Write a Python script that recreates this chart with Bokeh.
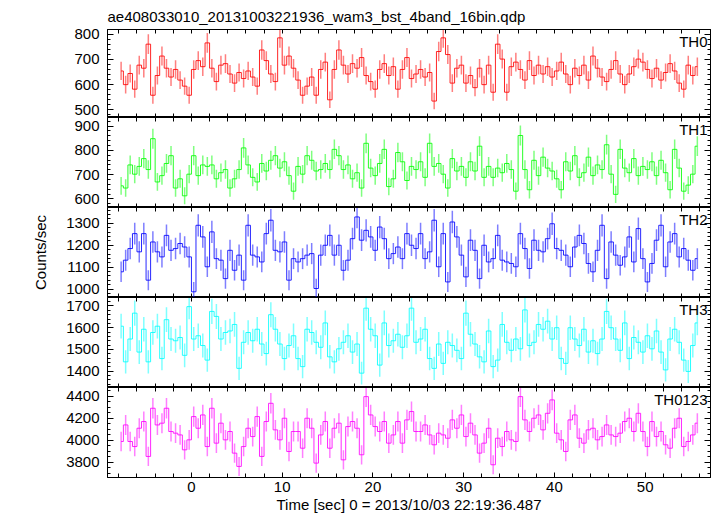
import numpy as np
from bokeh.plotting import figure
from bokeh.models import Range1d, LinearAxis, FixedTicker, Label, ColumnDataSource
from bokeh.layouts import column
from bokeh.embed import file_html
from bokeh.resources import INLINE

# ---------------- data ----------------
TITLE = "ae408033010_20131003221936_wam3_bst_4band_16bin.qdp"
X_LABEL = "Time [sec] 0 = 2013/10/03 22:19:36.487"
Y_LABEL = "Counts/sec"
BIN_WIDTH = 0.5          # s
T_START = -8.0           # s, left edge of first bin
BANDS = ["TH0", "TH1", "TH2", "TH3", "TH0123"]

TH0 = [654, 600, 644, 582, 677, 665, 760, 558, 636, 713,
       665, 630, 660, 618, 594, 558, 660, 695, 671, 765,
       665, 612, 677, 683, 642, 606, 648, 624, 654, 630,
       594, 737, 695, 642, 612, 785, 677, 713, 665, 618,
       558, 594, 630, 558, 660, 689, 540, 660, 737, 677,
       642, 683, 665, 707, 636, 612, 582, 660, 683, 636,
       671, 582, 660, 707, 624, 642,
       660, 630, 648, 535, 731, 785, 719, 606, 665, 677,
       606, 636, 588, 665, 600, 677, 570, 760, 701, 570,
       671, 689, 660, 618, 695, 636, 677, 642, 671, 630,
       654, 689, 642, 600, 665, 636, 677, 618, 713, 665,
       630, 612, 660, 695, 642, 600, 642, 671, 701, 689,
       660, 624, 665, 618, 648, 683, 654, 606, 582, 677,
       636, 671]

TH1 = [654, 645, 740, 702, 734, 766, 721, 848, 670, 696,
       746, 778, 645, 683, 613, 702, 778, 696, 740, 734,
       740, 683, 708, 721, 645, 683, 721, 810, 740, 689,
       670, 746, 715, 759, 778, 727, 753, 696, 632, 734,
       702, 778, 759, 715, 721, 746, 721, 804, 778, 721,
       740, 683, 708, 645, 829, 727, 696, 746, 804, 651,
       683, 791, 753, 676, 734, 721,
       753, 689, 829, 734, 746, 702, 645, 766, 715, 734,
       689, 753, 715, 817, 689, 734, 689, 727, 708, 746,
       721, 632, 861, 721, 638, 759, 696, 772, 727, 715,
       683, 638, 753, 715, 778, 689, 708, 772, 696, 740,
       721, 823, 702, 619, 804, 727, 708, 766, 696, 734,
       721, 753, 696, 759, 708, 638, 804, 727, 632, 657,
       702, 817]

TH2 = [1079, 1132, 1185, 1253, 1170, 1253, 1041, 1215, 1170, 1147,
       1245, 1177, 1185, 1208, 1192, 1147, 988, 1291, 1238, 1102,
       1261, 1139, 1132, 1048, 1177, 1086, 1155, 1041, 1291, 1155,
       1147, 1124, 1253, 1314, 1177, 1170, 1215, 1041, 1139, 1124,
       1139, 1155, 1162, 1003, 1155, 1200, 1245, 1155, 1200, 1086,
       1132, 1230, 1329, 1223, 1268, 1238, 1177, 1283, 1230, 1139,
       1162, 1192, 1139, 1253, 1200, 1185,
       1253, 1139, 1170, 1314, 1102, 1253, 1033, 1306, 1238, 1155,
       1056, 1223, 1177, 1048, 1200, 1124, 1139, 1245, 1132, 1124,
       1117, 1102, 1253, 1185, 1094, 1223, 1177, 1170, 1230, 1298,
       1185, 1177, 1155, 1102, 1192, 1245, 1208, 1117, 1079, 1177,
       1291, 1048, 1215, 1155, 1109, 1147, 1238, 1124, 1276, 1139,
       1033, 1117, 1223, 1291, 1102, 1215, 1253, 1147, 1185, 1132,
       1086, 1139]

TH3 = [1607, 1443, 1548, 1667, 1488, 1593, 1443, 1578, 1607, 1458,
       1637, 1548, 1540, 1555, 1473, 1697, 1548, 1563, 1518, 1451,
       1675, 1652, 1548, 1578, 1585, 1615, 1413, 1533, 1578, 1540,
       1593, 1525, 1481, 1660, 1593, 1525, 1458, 1518, 1563, 1458,
       1421, 1593, 1578, 1533, 1510, 1622, 1466, 1443, 1503, 1533,
       1563, 1488, 1525, 1391, 1690, 1593, 1563, 1428, 1622, 1518,
       1540, 1570, 1510, 1563, 1690, 1533,
       1548, 1593, 1458, 1413, 1525, 1436, 1533, 1518, 1496, 1458,
       1667, 1570, 1525, 1466, 1443, 1585, 1421, 1451, 1615, 1533,
       1496, 1548, 1503, 1682, 1518, 1533, 1615, 1593, 1630, 1548,
       1600, 1458, 1436, 1600, 1548, 1518, 1593, 1488, 1540, 1481,
       1548, 1675, 1600, 1548, 1496, 1622, 1458, 1555, 1533, 1488,
       1563, 1503, 1585, 1488, 1406, 1548, 1593, 1533, 1451, 1399,
       1518, 1622]

TH0123 = [3988, 4139, 3988, 3942, 4109, 4170, 3852, 4291, 4139, 4155,
          4291, 4079, 4064, 4048, 3912, 4003, 4215, 4109, 4230, 3942,
          4291, 3973, 4155, 4003, 4079, 3882, 3761, 3942, 4109, 4033,
          4215, 3852, 4170, 4336, 4094, 4003, 4200, 3897, 4079, 4079,
          3927, 4200, 4109, 3791, 4048, 4170, 3927, 4109, 4155, 3821,
          4124, 4170, 4109, 3867, 4397, 4230, 4124, 4079, 4170, 3973,
          4048, 4170, 3973, 4185, 4261, 4079,
          4079, 4139, 4048, 3958, 4064, 4048, 4018, 4185, 4109, 4230,
          4033, 4155, 4048, 3882, 3973, 4109, 3776, 4018, 3942, 4079,
          4003, 3988, 4397, 4185, 4079, 4200, 4230, 4094, 4245, 4367,
          4064, 4003, 3897, 4185, 4230, 4018, 3973, 4094, 4109, 4003,
          4033, 4139, 4048, 4033, 4064, 4170, 4200, 4079, 4245, 4079,
          3942, 4170, 4033, 4079, 3958, 3927, 4109, 4200, 3942, 3988,
          4048, 4155]

X_MAJOR_TICKS = [0, 10, 20, 30, 40, 50]
X_MINOR_TICKS = list(range(-8, 57, 2))
Y_MAJOR_TICKS = [[500, 600, 700, 800], [600, 700, 800, 900], [1000, 1100, 1200, 1300],
                 [1400, 1500, 1600, 1700], [3800, 4000, 4200, 4400]]
Y_MINOR_TICKS = [list(range(480, 821, 20)), list(range(560, 941, 20)), list(range(960, 1381, 20)),
                 list(range(1320, 1741, 20)), list(range(3650, 4501, 50))]

# ---------------- style / layout ----------------
X_RANGE = (-9.25, 57.2)
Y_RANGES = [(470, 818), (565, 935), (962, 1372), (1325, 1739), (3660, 4480)]
COLORS = ["#ff0000", "#00ff00", "#0000ff", "#00ffff", "#ff00ff"]
FONT = "Liberation Sans"
W = 717
FRAME_H = 90
TOP_B = 27
BOT_B = 38
LEFT_B = 107
RIGHT_B = 7

series = [TH0, TH1, TH2, TH3, TH0123]
for s in series:
    assert len(s) == 128, len(s)

t = T_START + BIN_WIDTH * (np.arange(len(TH0)) + 0.5)
xr = Range1d(*X_RANGE)


def tick_only_axis(positions, length):
    """An axis that draws inward ticks only (no labels, no size)."""
    return LinearAxis(ticker=FixedTicker(ticks=[], minor_ticks=positions),
                      major_tick_in=0, major_tick_out=0,
                      minor_tick_in=length, minor_tick_out=0,
                      major_label_standoff=0, axis_label_standoff=0)


figs = []
for k, (name, vals, col) in enumerate(zip(BANDS, series, COLORS)):
    first = k == 0
    last = k == len(BANDS) - 1
    h = FRAME_H + (TOP_B if first else 0) + (BOT_B if last else 0)
    ylo, yhi = Y_RANGES[k]
    p = figure(width=W, height=h, x_range=xr, y_range=Range1d(ylo, yhi),
               output_backend="svg", toolbar_location=None,
               title=TITLE if first else None,
               x_axis_location=None, y_axis_location=None,
               min_border_left=LEFT_B, min_border_right=RIGHT_B,
               min_border_top=TOP_B if first else 0,
               min_border_bottom=BOT_B if last else 0,
               background_fill_color="white", border_fill_color="white",
               outline_line_color="black")
    p.grid.visible = False
    if first:
        p.title.align = "left"
        p.title.text_font = FONT
        p.title.text_font_size = "15px"
        p.title.text_font_style = "normal"
        p.title.text_color = "black"
        p.title.standoff = 10

    v = np.array(vals, dtype=float)
    err = np.sqrt(v / BIN_WIDTH)
    src = ColumnDataSource(dict(t=t, v=v, lo=v - err, hi=v + err))
    p.segment(x0="t", y0="lo", x1="t", y1="hi", source=src,
              line_color=col, line_alpha=0.5, line_width=1.5)
    p.step(x="t", y="v", source=src, mode="center",
           line_color=col, line_alpha=0.85, line_width=1)

    # bottom axis
    if last:
        xa = LinearAxis(ticker=FixedTicker(ticks=X_MAJOR_TICKS, minor_ticks=X_MINOR_TICKS),
                        major_tick_in=5, major_tick_out=0, minor_tick_in=4, minor_tick_out=0,
                        major_label_text_font=FONT, major_label_text_font_size="15px",
                        major_label_text_color="black", major_label_standoff=4,
                        axis_label=X_LABEL, axis_label_text_font=FONT,
                        axis_label_text_font_size="15px", axis_label_text_font_style="normal",
                        axis_label_text_color="black", axis_label_standoff=1)
        p.add_layout(xa, "below")
    else:
        p.add_layout(tick_only_axis(X_MINOR_TICKS, 4), "below")
    # top axis
    p.add_layout(tick_only_axis(X_MINOR_TICKS, 4), "above")

    # left axis with labels
    ya = LinearAxis(ticker=FixedTicker(ticks=Y_MAJOR_TICKS[k], minor_ticks=Y_MINOR_TICKS[k]),
                    major_tick_in=6, major_tick_out=0, minor_tick_in=3, minor_tick_out=0,
                    major_label_text_font=FONT, major_label_text_font_size="15px",
                    major_label_text_color="black", major_label_standoff=8)
    if name == "TH2":
        ya.axis_label = Y_LABEL
        ya.axis_label_text_font = FONT
        ya.axis_label_text_font_size = "15px"
        ya.axis_label_text_font_style = "normal"
        ya.axis_label_text_color = "black"
        ya.axis_label_standoff = 14
    p.add_layout(ya, "left")

    # right axis: major and minor ticks
    p.add_layout(tick_only_axis(Y_MAJOR_TICKS[k], 6), "right")
    p.add_layout(tick_only_axis(Y_MINOR_TICKS[k], 3), "right")

    p.add_layout(Label(x=X_RANGE[1], y=yhi, x_offset=-3, y_offset=-3, text=name,
                       text_align="right", text_baseline="top",
                       text_font=FONT, text_font_size="15px", text_color="black"))
    figs.append(p)

layout = column(*figs, spacing=0)
open("out.html", "w").write(file_html(layout, INLINE))
